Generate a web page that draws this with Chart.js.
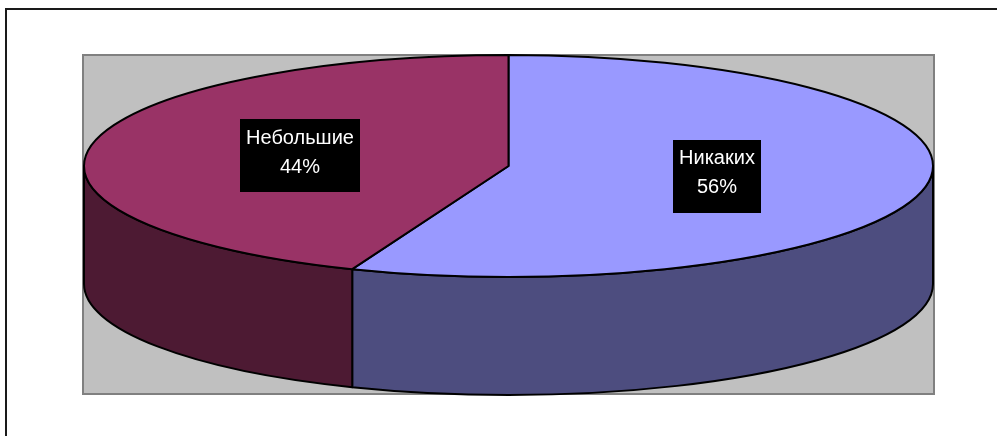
<!DOCTYPE html>
<html>
<head>
<meta charset="utf-8">
<script src="https://cdn.jsdelivr.net/npm/chart.js@4/dist/chart.umd.min.js"></script>
<style>
  html, body { margin: 0; padding: 0; background: #fff; }
  #wrap { width: 997px; height: 436px; }
</style>
</head>
<body>
<div id="wrap"><canvas id="pieChart"></canvas></div>
<script>
// Data
const labels = ['Никаких', 'Небольшие'];
const shares = [56, 44];
const topColors = ['#9999FF', '#993366'];
const sideColors = ['#4D4D7F', '#4D1A33'];

// 3D look: vertical size of the top ellipse and wall height (px)
const tiltRadius = 111;
const wallDepth = 118;

// Frame + grey plot area (Excel style)
const frame = {
  id: 'frame',
  beforeDraw(chart) {
    const ctx = chart.ctx;
    const a = chart.chartArea;
    ctx.save();
    ctx.fillStyle = '#fff';
    ctx.fillRect(0, 0, chart.width, chart.height);
    ctx.strokeStyle = '#1a1a1a';
    ctx.lineWidth = 2;
    ctx.strokeRect(6, 9, chart.width + 10, chart.height + 10);
    ctx.fillStyle = '#C0C0C0';
    ctx.fillRect(a.left, a.top, a.right - a.left, a.bottom - a.top);
    ctx.strokeStyle = '#808080';
    ctx.lineWidth = 2;
    ctx.strokeRect(a.left, a.top, a.right - a.left, a.bottom - a.top);
    ctx.restore();
  }
};

function ellipseGeom(chart) {
  const a = chart.chartArea;
  return {
    cx: (a.left + a.right) / 2,
    cy: a.top + tiltRadius,
    rx: (a.right - a.left) / 2 - 1,
    ry: tiltRadius
  };
}

// Draws the pie as a tilted 3D disc, using the arc angles computed by Chart.js
const pie3d = {
  id: 'pie3d',
  beforeDatasetsDraw(chart) {
    const ctx = chart.ctx;
    const g = ellipseGeom(chart);
    const arcs = chart.getDatasetMeta(0).data;

    ctx.save();
    ctx.lineWidth = 2;
    ctx.strokeStyle = '#000';
    ctx.lineJoin = 'round';

    // front walls
    arcs.forEach((arc, i) => {
      const p = arc.getProps(['startAngle', 'endAngle'], true);
      const s = Math.max(p.startAngle, 0);
      const e = Math.min(p.endAngle, Math.PI);
      if (e <= s) return;
      ctx.beginPath();
      ctx.ellipse(g.cx, g.cy, g.rx, g.ry, 0, s, e);
      ctx.ellipse(g.cx, g.cy + wallDepth, g.rx, g.ry, 0, e, s, true);
      ctx.closePath();
      ctx.fillStyle = sideColors[i];
      ctx.fill();
      ctx.stroke();
    });

    // top faces
    arcs.forEach((arc, i) => {
      const p = arc.getProps(['startAngle', 'endAngle'], true);
      ctx.beginPath();
      ctx.moveTo(g.cx, g.cy);
      ctx.ellipse(g.cx, g.cy, g.rx, g.ry, 0, p.startAngle, p.endAngle);
      ctx.closePath();
      ctx.fillStyle = topColors[i];
      ctx.fill();
      ctx.stroke();
    });
    ctx.restore();
    return false;
  },
  afterDraw(chart) {
    const ctx = chart.ctx;
    const g = ellipseGeom(chart);
    const arcs = chart.getDatasetMeta(0).data;
    const total = shares.reduce((t, v) => t + v, 0);

    ctx.save();
    ctx.font = '20px "Liberation Sans", Arial, sans-serif';
    ctx.textAlign = 'center';
    ctx.textBaseline = 'alphabetic';
    arcs.forEach((arc, i) => {
      const p = arc.getProps(['startAngle', 'endAngle'], true);
      const mid = (p.startAngle + p.endAngle) / 2;
      const x = g.cx + 0.5 * g.rx * Math.cos(mid);
      const y = g.cy + 0.5 * g.ry * Math.sin(mid);
      const line1 = labels[i];
      const line2 = Math.round(shares[i] / total * 100) + '%';
      const w = Math.max(ctx.measureText(line1).width, ctx.measureText(line2).width) + 12;
      const h = 73;
      ctx.fillStyle = '#000';
      ctx.fillRect(Math.round(x - w / 2), Math.round(y - h / 2), Math.round(w), h);
      ctx.fillStyle = '#fff';
      ctx.fillText(line1, x, y - 12);
      ctx.fillText(line2, x, y + 17);
    });
    ctx.restore();
  }
};

new Chart(document.getElementById('pieChart'), {
  type: 'pie',
  data: {
    labels: labels,
    datasets: [{
      data: shares,
      backgroundColor: topColors,
      borderColor: '#000',
      borderWidth: 2
    }]
  },
  options: {
    responsive: true,
    maintainAspectRatio: false,
    animation: false,
    events: [],
    layout: {
      padding: { left: 83, top: 55, right: 63, bottom: 42 }
    },
    plugins: {
      legend: { display: false },
      tooltip: { enabled: false }
    }
  },
  plugins: [frame, pie3d]
});
</script>
</body>
</html>
